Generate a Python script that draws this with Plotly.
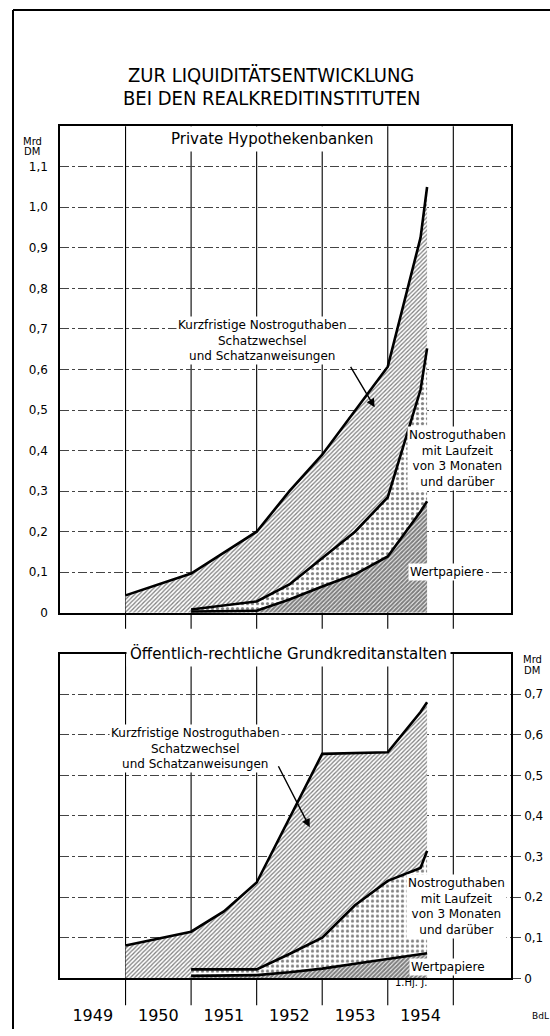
import plotly.graph_objects as go

# ---------------- data (Mrd DM) ----------------
years = [1949, 1950, 1951, 1952, 1953, 1954]
year_bounds = [1950, 1951, 1952, 1953, 1954, 1955]

# Private Hypothekenbanken (cumulative levels)
p_x_total = [1950, 1951, 1952, 1952.5, 1953, 1953.5, 1954, 1954.5, 1954.6]
p_total = [0.043, 0.097, 0.20, 0.30, 0.39, 0.50, 0.607, 0.925, 1.05]
p_x_sub = [1951, 1952, 1952.5, 1953, 1953.5, 1954, 1954.5, 1954.6]
p_nostro_cum = [0.008, 0.028, 0.07, 0.135, 0.20, 0.285, 0.55, 0.652]
p_wertpapiere = [0.003, 0.005, 0.033, 0.065, 0.095, 0.139, 0.25, 0.275]

# Öffentlich-rechtliche Grundkreditanstalten (cumulative levels)
o_x_total = [1950, 1951, 1951.5, 1952, 1953, 1954, 1954.5, 1954.6]
o_total = [0.081, 0.115, 0.165, 0.236, 0.553, 0.557, 0.656, 0.68]
o_x_sub = [1951, 1952, 1952.5, 1953, 1953.5, 1954, 1954.5, 1954.6]
o_nostro_cum = [0.022, 0.022, 0.06, 0.10, 0.18, 0.24, 0.272, 0.314]
o_wertpapiere = [0.006, 0.008, 0.015, 0.024, 0.036, 0.047, 0.058, 0.062]

p_ticks = [0, 0.1, 0.2, 0.3, 0.4, 0.5, 0.6, 0.7, 0.8, 0.9, 1.0, 1.1]
p_ticktext = ["0", "0,1", "0,2", "0,3", "0,4", "0,5", "0,6", "0,7", "0,8", "0,9", "1,0", "1,1"]
o_ticks = [0, 0.1, 0.2, 0.3, 0.4, 0.5, 0.6, 0.7]
o_ticktext = ["0", "0,1", "0,2", "0,3", "0,4", "0,5", "0,6", "0,7"]

label_kurz = "Kurzfristige Nostroguthaben<br>Schatzwechsel<br>und Schatzanweisungen"
label_nostro = "Nostroguthaben<br>mit Laufzeit<br>von 3 Monaten<br>und darüber"
label_wert = "Wertpapiere"

# ---------------- styling ----------------
W, H = 550, 1036
FONT = "DejaVu Sans, Liberation Sans, Arial, sans-serif"
TFONT = "DejaVu Sans Condensed, Liberation Sans Narrow, DejaVu Sans, sans-serif"
X0, X1 = 1949, 1955.88

def py(px):
    return 1 - px / H

top_dom = [py(617), py(127)]
bot_dom = [py(985), py(658)]
x_dom = [60 / W, 511 / W]

hatch = dict(shape="/", fgcolor="black", bgcolor="white", size=3, solidity=0.42)
dots = dict(shape=".", fgcolor="black", bgcolor="white", size=5, solidity=0.33)
dark = dict(shape="/", fgcolor="black", bgcolor="white", size=3, solidity=0.72)

fig = go.Figure()

def add_panel(xa, ya, x_tot, tot, x_sub, nos, wert):
    poly_x = list(x_tot) + list(reversed(x_sub)) + [x_sub[0], x_tot[0]]
    poly_y = list(tot) + list(reversed(nos)) + [0, 0]
    fig.add_trace(go.Scatter(x=poly_x, y=poly_y, fill="toself", mode="none",
                             fillcolor="white", fillpattern=hatch,
                             xaxis=xa, yaxis=ya, hoverinfo="skip"))
    fig.add_trace(go.Scatter(x=list(x_sub) + list(reversed(x_sub)),
                             y=list(nos) + list(reversed(wert)),
                             fill="toself", mode="none", fillcolor="white",
                             fillpattern=dots, xaxis=xa, yaxis=ya, hoverinfo="skip"))
    fig.add_trace(go.Scatter(x=list(x_sub) + [x_sub[-1], x_sub[0]],
                             y=list(wert) + [0, 0],
                             fill="toself", mode="none", fillcolor="white",
                             fillpattern=dark, xaxis=xa, yaxis=ya, hoverinfo="skip"))
    for xs, ys in ((x_tot, tot), (x_sub, nos), (x_sub, wert)):
        fig.add_trace(go.Scatter(x=xs, y=ys, mode="lines",
                                 line=dict(color="black", width=2.6),
                                 xaxis=xa, yaxis=ya, hoverinfo="skip"))

add_panel("x", "y", p_x_total, p_total, p_x_sub, p_nostro_cum, p_wertpapiere)
add_panel("x2", "y2", o_x_total, o_total, o_x_sub, o_nostro_cum, o_wertpapiere)

axis_common = dict(range=[X0, X1], showgrid=False, zeroline=False,
                   showline=True, linecolor="black", linewidth=1.5, mirror=True,
                   fixedrange=True)
yaxis_common = dict(showgrid=True, gridcolor="#444", griddash="dashdot", gridwidth=0.8,
                    zeroline=False, showline=True, linecolor="black", linewidth=1.5,
                    mirror=True, fixedrange=True,
                    tickfont=dict(family=FONT, size=12, color="black"))

fig.update_layout(
    width=W, height=H, margin=dict(l=0, r=0, t=0, b=0),
    paper_bgcolor="white", plot_bgcolor="white", showlegend=False,
    xaxis=dict(domain=x_dom, anchor="y", showticklabels=False, ticks="", **axis_common),
    yaxis=dict(domain=top_dom, range=[0, 1.2], tickvals=p_ticks, ticktext=p_ticktext,
               ticks="", ticklabelstandoff=8, side="left", **yaxis_common),
    xaxis2=dict(domain=x_dom, anchor="y2", tickvals=[y + 0.5 for y in years],
                ticktext=[str(y) for y in years], ticks="", ticklabelstandoff=22,
                tickfont=dict(family=FONT, size=16, color="black"), **axis_common),
    yaxis2=dict(domain=bot_dom, range=[0, 0.8], tickvals=o_ticks, ticktext=o_ticktext,
                ticks="outside", ticklen=8, tickcolor="#444", tickwidth=1,
                ticklabelstandoff=1, side="right", **yaxis_common),
)

shapes = []
for b in year_bounds:
    shapes.append(dict(type="line", xref="x", yref="paper", x0=b, x1=b,
                       y0=py(633), y1=top_dom[1], line=dict(color="black", width=1.1),
                       layer="below"))
    shapes.append(dict(type="line", xref="x2", yref="paper", x0=b, x1=b,
                       y0=py(1012), y1=bot_dom[1], line=dict(color="black", width=1.1),
                       layer="below"))
shapes.append(dict(type="line", xref="paper", yref="paper", x0=13 / W, x1=1, y0=py(10), y1=py(10),
                   line=dict(color="black", width=2)))
shapes.append(dict(type="line", xref="paper", yref="paper", x0=13 / W, x1=13 / W, y0=0, y1=py(10),
                   line=dict(color="black", width=2)))
fig.update_layout(shapes=shapes)

ann = []
ann.append(dict(text="ZUR LIQUIDITÄTSENTWICKLUNG", x=271 / W, y=py(61), xref="paper", yref="paper",
                xanchor="center", showarrow=False, font=dict(family=TFONT, size=20, color="black")))
ann.append(dict(text="BEI DEN REALKREDITINSTITUTEN", x=272 / W, y=py(85), xref="paper", yref="paper",
                xanchor="center", showarrow=False, font=dict(family=TFONT, size=20, color="black")))
ann.append(dict(text="Private Hypothekenbanken", x=272 / W, y=py(127), xref="paper", yref="paper",
                xanchor="center", showarrow=False, bgcolor="white", borderpad=3,
                font=dict(family=FONT, size=15, color="black")))
ann.append(dict(text="Öffentlich-rechtliche Grundkreditanstalten", x=288 / W, y=py(658),
                xref="paper", yref="paper", xanchor="center", showarrow=False, bgcolor="white",
                borderpad=3, font=dict(family=FONT, size=15, color="black")))
# units
for txt, xx, yy in (("Mrd", 32, 135), ("DM", 32, 145), ("Mrd", 532, 664), ("DM", 532, 675)):
    ann.append(dict(text=txt, x=xx / W, y=py(yy), xref="paper", yref="paper", showarrow=False,
                    xanchor="center", font=dict(family=FONT, size=10, color="black")))
# top panel labels
ann.append(dict(text=label_kurz, x=1952.09, y=0.671, xref="x", yref="y", showarrow=False,
                xanchor="center", bgcolor="white", font=dict(family=FONT, size=12, color="black")))
ann.append(dict(text="", x=1953.80, y=0.507, ax=1953.42, ay=0.61, xref="x", yref="y",
                axref="x", ayref="y", showarrow=True, arrowhead=2, arrowsize=1.2,
                arrowwidth=1.4, arrowcolor="black"))
ann.append(dict(text=label_nostro, x=1955.06, y=0.38, xref="x", yref="y", showarrow=False,
                xanchor="center", bgcolor="white", font=dict(family=FONT, size=12, color="black")))
ann.append(dict(text=label_wert, x=1954.91, y=0.10, xref="x", yref="y", showarrow=False,
                xanchor="center", bgcolor="white", font=dict(family=FONT, size=12, color="black")))
# bottom panel labels
ann.append(dict(text=label_kurz, x=1951.06, y=0.567, xref="x2", yref="y2", showarrow=False,
                xanchor="center", bgcolor="white", font=dict(family=FONT, size=12, color="black")))
ann.append(dict(text="", x=1952.81, y=0.372, ax=1952.32, ay=0.526, xref="x2", yref="y2",
                axref="x2", ayref="y2", showarrow=True, arrowhead=2, arrowsize=1.2,
                arrowwidth=1.4, arrowcolor="black"))
ann.append(dict(text=label_nostro, x=1955.05, y=0.176, xref="x2", yref="y2", showarrow=False,
                xanchor="center", bgcolor="white", font=dict(family=FONT, size=12, color="black")))
ann.append(dict(text=label_wert, x=1954.92, y=0.027, xref="x2", yref="y2", showarrow=False,
                xanchor="center", bgcolor="white", font=dict(family=FONT, size=12, color="black")))
ann.append(dict(text="1.Hj. J.", x=1954.36, y=py(997), xref="x2", yref="paper", showarrow=False,
                xanchor="center", font=dict(family=FONT, size=10, color="black")))
ann.append(dict(text="BdL", x=540 / W, y=py(1030), xref="paper", yref="paper", showarrow=False,
                xanchor="center", font=dict(family=FONT, size=9, color="black")))
fig.update_layout(annotations=ann)

fig.write_html("out.html", config={"displayModeBar": False},
               post_script="document.body.style.margin='0';document.body.style.overflow='hidden';")
